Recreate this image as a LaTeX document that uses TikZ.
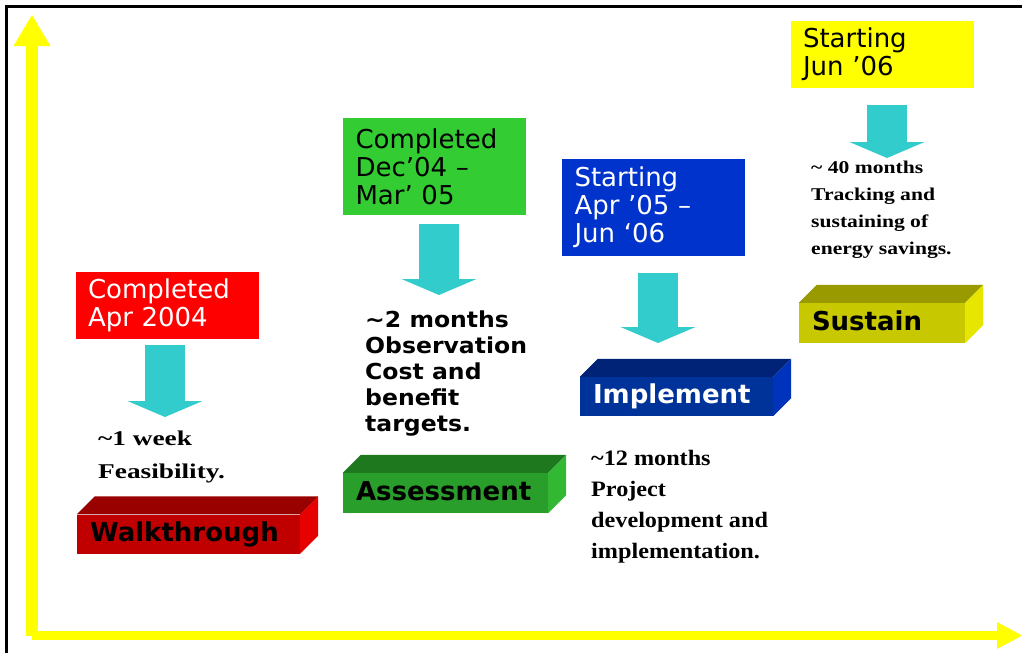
\documentclass[tikz,border=0pt]{standalone}
\usepackage{fontspec}
\usetikzlibrary{arrows.meta}

\newfontfamily\datefont{DejaVu Sans}
\newfontfamily\stagefont{DejaVu Sans}
\newfontfamily\notesans[FakeStretch=1.07]{DejaVu Sans}
\newfontfamily\noteweek[FakeStretch=1.3]{Liberation Serif}
\newfontfamily\noteimpl[FakeStretch=1.1]{Liberation Serif}
\newfontfamily\notesust[FakeStretch=1.2]{Liberation Serif}

\definecolor{datered}{HTML}{FF0000}
\definecolor{dategreen}{HTML}{33CC33}
\definecolor{dateblue}{HTML}{0033CC}
\definecolor{dateyellow}{HTML}{FFFF00}
\definecolor{dropcyan}{HTML}{33CCCC}
\definecolor{axisyellow}{HTML}{FFFF00}
% stage blocks: front, top and side faces
\definecolor{frontwalk}{HTML}{C00000}
\definecolor{topwalk}{HTML}{990000}
\definecolor{sidewalk}{HTML}{E60000}
\definecolor{frontassess}{HTML}{2A9E2A}
\definecolor{topassess}{HTML}{1E781E}
\definecolor{sideassess}{HTML}{33B833}
\definecolor{frontimpl}{HTML}{003399}
\definecolor{topimpl}{HTML}{002277}
\definecolor{sideimpl}{HTML}{0033BB}
\definecolor{frontsust}{HTML}{C8C800}
\definecolor{topsust}{HTML}{999900}
\definecolor{sidesust}{HTML}{E6E600}

\begin{document}
\begin{tikzpicture}[x=1pt, y=-1pt,
  datebox/.style={minimum width=183pt, text width=158pt, inner xsep=12.5pt, inner ysep=0pt,
    align=left, font=\datefont\fontsize{26}{28}\selectfont},
  stage/.style={minimum height=39pt, inner xsep=13pt, inner ysep=0pt, text height=19pt,
    text depth=5pt, align=left, font=\stagefont\bfseries\fontsize{26}{28}\selectfont},
  note/.style={anchor=north west, inner sep=0pt, align=left},
  drop/.style={line width=40pt, dropcyan, -{Triangle[width=75pt, length=16pt, line width=0pt]}}]

  % 1pt grid, y pointing down
  \fill[white] (0,0) rectangle (1022,653);
  \useasboundingbox (0,0) rectangle (1022,653);
  \draw[line width=2.5pt] (6.5,653) -- (6.5,6.5) -- (1022,6.5);

  % axes
  \coordinate (origin) at (32,635.5);
  \coordinate (ytip) at (32,15);
  \coordinate (xtip) at (1022,635.5);
  \draw[line width=12pt, axisyellow, -{Triangle[width=37pt, length=31pt, line width=0pt]}] (origin) -- (ytip);
  \draw[line width=9pt, axisyellow, -{Triangle[width=27pt, length=25pt, line width=0pt]}] (origin) -- (xtip);

  % dates
  \node[datebox, fill=datered, text=white, minimum height=67pt] (apr04) at (167,305.5) {Completed\\Apr 2004};
  \node[datebox, fill=dategreen, minimum height=97pt] (dec04) at (434.5,166.5) {Completed\\Dec’04 –\\Mar’ 05};
  \node[datebox, fill=dateblue, text=white, minimum height=97pt] (apr05) at (653.5,207.5) {Starting\\Apr ’05 –\\Jun ‘06};
  \node[datebox, fill=dateyellow, minimum height=67pt] (jun06) at (882,54.5) {Starting\\Jun ’06};

  % stages
  \node[stage, fill=frontwalk, text width=197pt] (walk) at (188.5,534) {Walkthrough};
  \node[stage, fill=frontassess, text width=179pt, minimum height=40pt] (assess) at (445.5,493) {Assessment};
  \node[stage, fill=frontimpl, text=white, text width=167pt] (impl) at (676.5,396.5) {Implement};
  \node[stage, fill=frontsust, text width=140pt, minimum height=40pt] (sust) at (882,323) {Sustain};
  \foreach \n in {walk,assess,impl,sust} {
    \fill[top\n] (\n.north west) -- ([shift={(18,-18)}]\n.north west)
      -- ([shift={(18,-18)}]\n.north east) -- (\n.north east) -- cycle;
    \fill[side\n] (\n.north east) -- ([shift={(18,-18)}]\n.north east)
      -- ([shift={(18,-18)}]\n.south east) -- (\n.south east) -- cycle;
  }

  % durations
  \node[note, font=\noteweek\bfseries\fontsize{21}{33}\selectfont] (week) at (98,431)
    {\textasciitilde 1 week\\Feasibility.};
  \node[note, font=\notesans\bfseries\fontsize{22}{26}\selectfont] (twomonths) at (365,311)
    {\textasciitilde 2 months\\Observation\\Cost and\\benefit\\targets.};
  \node[note, font=\noteimpl\bfseries\fontsize{22}{31}\selectfont] (twelve) at (591,450)
    {\textasciitilde 12 months\\Project\\development and\\implementation.};
  \node[note, font=\notesust\bfseries\fontsize{18}{27}\selectfont] (forty) at (811,161)
    {\textasciitilde{} 40 months\\Tracking and\\sustaining of\\energy savings.};

  % drops from each date
  \coordinate (drop1) at (165,345);   \coordinate (drop1tip) at (165,417);
  \coordinate (drop2) at (439,224);   \coordinate (drop2tip) at (439,295);
  \coordinate (drop3) at (658,273);   \coordinate (drop3tip) at (658,343);
  \coordinate (drop4) at (887,105);   \coordinate (drop4tip) at (887,158);
  \draw[drop] (drop1) -- (drop1tip);
  \draw[drop] (drop2) -- (drop2tip);
  \draw[drop] (drop3) -- (drop3tip);
  \draw[drop] (drop4) -- (drop4tip);
\end{tikzpicture}
\end{document}
